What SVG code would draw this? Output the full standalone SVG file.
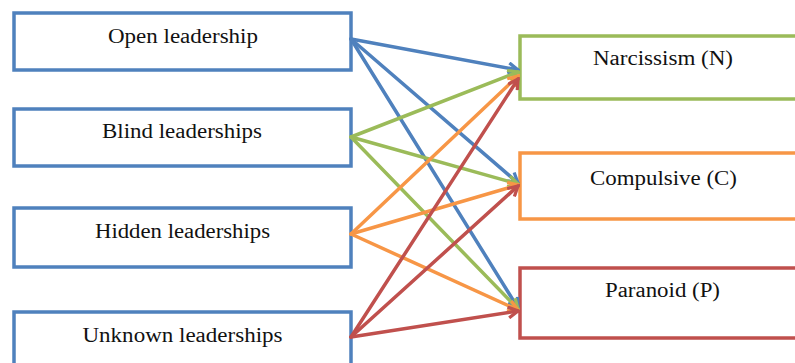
<svg xmlns="http://www.w3.org/2000/svg" width="795" height="363" viewBox="0 0 795 363">
<defs>
<style>
.box{fill:#fff;stroke-width:3.5}
.lbl{font-family:"Liberation Serif","Times New Roman",serif;font-size:20px;fill:#111;text-anchor:middle}
.c{fill:none;stroke-width:3.5;stroke-linecap:round}
.b{stroke:#4f81bd}.g{stroke:#9bbb59}.o{stroke:#f79646}.r{stroke:#c0504d}
</style>
<marker id="ab" viewBox="0 0 12 12" refX="10" refY="6" markerWidth="13" markerHeight="13" markerUnits="userSpaceOnUse" orient="auto"><path d="M1,1 L10,6 L1,11" fill="none" stroke="#4f81bd" stroke-width="3"/></marker>
<marker id="ag" viewBox="0 0 12 12" refX="10" refY="6" markerWidth="13" markerHeight="13" markerUnits="userSpaceOnUse" orient="auto"><path d="M1,1 L10,6 L1,11" fill="none" stroke="#9bbb59" stroke-width="3"/></marker>
<marker id="ao" viewBox="0 0 12 12" refX="10" refY="6" markerWidth="13" markerHeight="13" markerUnits="userSpaceOnUse" orient="auto"><path d="M1,1 L10,6 L1,11" fill="none" stroke="#f79646" stroke-width="3"/></marker>
<marker id="ar" viewBox="0 0 12 12" refX="10" refY="6" markerWidth="13" markerHeight="13" markerUnits="userSpaceOnUse" orient="auto"><path d="M1,1 L10,6 L1,11" fill="none" stroke="#c0504d" stroke-width="3"/></marker>
</defs>
<g id="n-open"><rect class="box" x="14" y="13" width="337" height="57" stroke="#4f81bd"/><text class="lbl" x="183" y="43" textLength="150" lengthAdjust="spacingAndGlyphs">Open leadership</text></g>
<g id="n-blind"><rect class="box" x="14" y="109" width="337" height="57" stroke="#4f81bd"/><text class="lbl" x="182" y="138" textLength="160" lengthAdjust="spacingAndGlyphs">Blind leaderships</text></g>
<g id="n-hidden"><rect class="box" x="14" y="208" width="337" height="59" stroke="#4f81bd"/><text class="lbl" x="182.5" y="238" textLength="175" lengthAdjust="spacingAndGlyphs">Hidden leaderships</text></g>
<g id="n-unknown"><rect class="box" x="14" y="312" width="337" height="60" stroke="#4f81bd"/><text class="lbl" x="182.5" y="342" textLength="200" lengthAdjust="spacingAndGlyphs">Unknown leaderships</text></g>
<g id="n-narc"><rect class="box" x="520" y="36" width="290" height="63" stroke="#9bbb59"/><text class="lbl" x="663" y="65" textLength="140" lengthAdjust="spacingAndGlyphs">Narcissism (N)</text></g>
<g id="n-comp"><rect class="box" x="520" y="153" width="290" height="66" stroke="#f79646"/><text class="lbl" x="663.5" y="185" textLength="147" lengthAdjust="spacingAndGlyphs">Compulsive (C)</text></g>
<g id="n-para"><rect class="box" x="520" y="268" width="290" height="70" stroke="#c0504d"/><text class="lbl" x="662.5" y="297" textLength="115" lengthAdjust="spacingAndGlyphs">Paranoid (P)</text></g>
<g id="connectors">
<path class="c b" d="M351,39 L518,70" marker-end="url(#ab)"/>
<path class="c b" d="M351,39 L518,183" marker-end="url(#ab)"/>
<path class="c b" d="M351,39 L518,308" marker-end="url(#ab)"/>
<path class="c g" d="M351,137 L518,72" marker-end="url(#ag)"/>
<path class="c g" d="M351,137 L518,184" marker-end="url(#ag)"/>
<path class="c g" d="M351,137 L518,309" marker-end="url(#ag)"/>
<path class="c o" d="M351,234 L518,76" marker-end="url(#ao)"/>
<path class="c o" d="M351,234 L518,185" marker-end="url(#ao)"/>
<path class="c o" d="M351,234 L518,310" marker-end="url(#ao)"/>
<path class="c r" d="M351,337 L518,79" marker-end="url(#ar)"/>
<path class="c r" d="M351,337 L518,186" marker-end="url(#ar)"/>
<path class="c r" d="M351,337 L518,311" marker-end="url(#ar)"/>
</g>
</svg>
